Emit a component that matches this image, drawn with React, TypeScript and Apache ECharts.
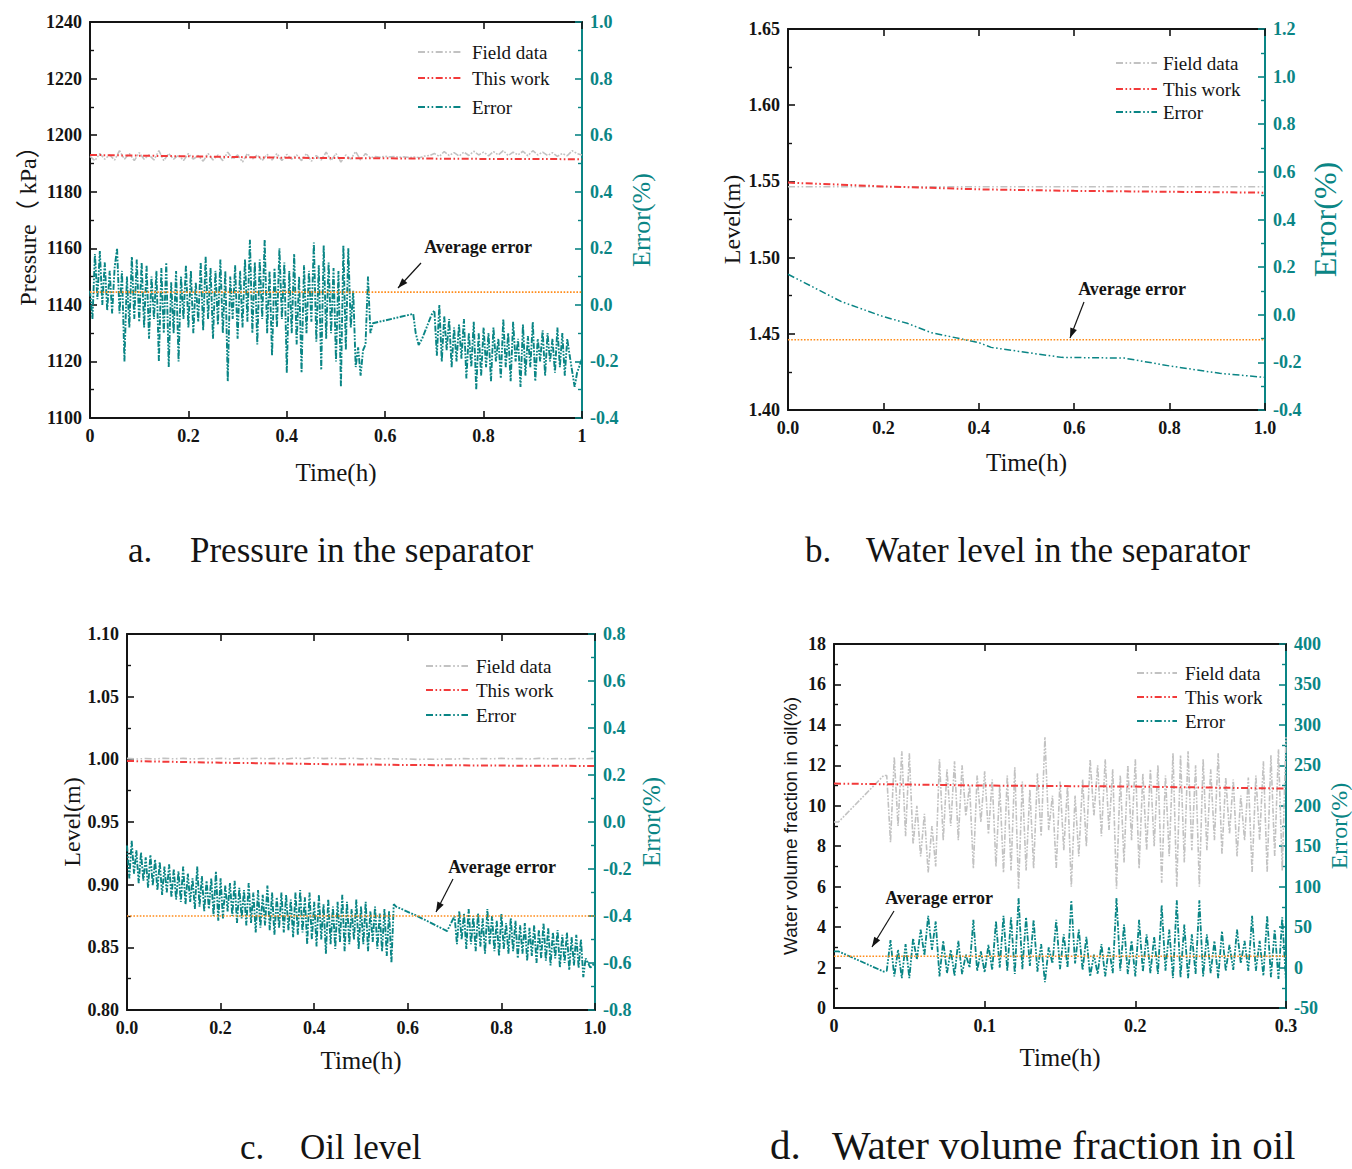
import React, { useEffect, useRef } from "react";
import * as echarts from "echarts";

// ---------------- Panel a: Pressure in the separator ----------------
const A_FIELD_T0 = 0;
const A_FIELD_DT = 0.01;
const A_FIELD = [
  1192.5, 1191.0, 1193.5, 1191.5, 1193.0, 1191.2, 1194.5, 1191.5, 1193.5, 1191.0,
  1193.8, 1191.5, 1193.0, 1191.2, 1194.5, 1191.0, 1193.5, 1191.5, 1193.0, 1191.0,
  1193.5, 1191.5, 1192.8, 1190.8, 1193.5, 1191.2, 1193.0, 1191.0, 1194.0, 1191.5,
  1193.0, 1190.5, 1193.5, 1191.5, 1193.0, 1191.0, 1193.2, 1191.2, 1193.5, 1191.0,
  1193.2, 1191.5, 1193.0, 1191.0, 1193.5, 1190.8, 1192.8, 1191.2, 1194.0, 1191.0,
  1193.5, 1190.5, 1193.0, 1191.5, 1194.2, 1191.2, 1193.5, 1192.0, 1192.4, 1192.2,
  1192.5, 1192.3, 1192.4, 1192.2, 1192.3, 1192.1, 1192.3, 1192.0, 1192.6, 1192.8,
  1193.5, 1192.5, 1194.2, 1192.8, 1193.8, 1192.6, 1194.0, 1192.8, 1194.3, 1193.0,
  1194.0, 1192.7, 1194.2, 1193.0, 1194.5, 1192.8, 1194.0, 1193.0, 1194.3, 1192.7,
  1194.5, 1193.0, 1194.0, 1192.8, 1193.8, 1192.5, 1193.5, 1192.7, 1194.5, 1193.5,
  1193.0,
];
const A_MODEL_T = [0, 0.2, 0.4, 0.6, 0.8, 1.0];
const A_MODEL = [1193.0, 1192.5, 1192.0, 1191.8, 1191.6, 1191.5];
const A_ERR1_T0 = 0;
const A_ERR1_DT = 0.005;
const A_ERR1 = [
  0.05, -0.05, 0.18, 0.02, 0.19, 0.0, 0.15, -0.02, 0.12, -0.03,
  0.13, 0.2, -0.03, 0.12, -0.2, 0.1, -0.08, 0.17, -0.05, 0.16,
  -0.06, 0.15, -0.08, 0.14, -0.12, 0.1, -0.05, 0.12, -0.2, 0.13,
  -0.1, 0.15, -0.22, 0.08, -0.1, 0.12, -0.2, 0.1, -0.05, 0.14,
  -0.08, 0.12, -0.1, 0.08, -0.06, 0.15, -0.09, 0.17, -0.05, 0.13,
  -0.12, 0.12, -0.07, 0.16, -0.1, 0.12, -0.27, 0.1, -0.05, 0.14,
  -0.12, 0.12, -0.08, 0.16, -0.06, 0.23, -0.1, 0.15, -0.14, 0.16,
  -0.05, 0.23, -0.1, 0.12, -0.18, 0.13, -0.08, 0.2, -0.05, 0.15,
  -0.24, 0.12, -0.1, 0.18, -0.14, 0.1, -0.24, 0.14, -0.1, 0.12,
  -0.06, 0.22, -0.13, 0.14, -0.23, 0.21, -0.12, 0.15, -0.1, 0.13,
  -0.2, 0.12, -0.29, 0.21, -0.16, 0.2, -0.08, 0.05, -0.22, -0.15,
  -0.25, -0.16, -0.14, 0.1, -0.1,
];
const A_ERR_GAP_T = [0.575, 0.657, 0.662, 0.668, 0.675, 0.694];
const A_ERR_GAP = [-0.065, -0.032, -0.1, -0.142, -0.12, -0.036];
const A_ERR2_T0 = 0.7;
const A_ERR2_DT = 0.005;
const A_ERR2 = [
  -0.02, -0.18, 0.0, -0.2, -0.04, -0.16, -0.05, -0.22, -0.08, -0.2,
  -0.07, -0.19, -0.05, -0.26, -0.1, -0.22, -0.06, -0.3, -0.1, -0.25,
  -0.08, -0.22, -0.1, -0.27, -0.08, -0.2, -0.12, -0.26, -0.05, -0.22,
  -0.1, -0.27, -0.06, -0.2, -0.12, -0.29, -0.07, -0.25, -0.11, -0.22,
  -0.06, -0.27, -0.12, -0.2, -0.09, -0.25, -0.1, -0.2, -0.12, -0.24,
  -0.08, -0.22, -0.1, -0.25, -0.12,
];
const A_ERR_TAIL_T = [0.975, 0.985, 0.99, 1.0];
const A_ERR_TAIL = [-0.18, -0.29, -0.24, -0.19];
const A_AVG = 0.045;

// ---------------- Panel b: Water level in the separator ----------------
const B_FIELD_T = [0, 1.0];
const B_FIELD = [1.5465, 1.5465];
const B_MODEL_T = [0, 0.1, 0.2, 0.4, 0.6, 0.8, 1.0];
const B_MODEL = [1.5492, 1.548, 1.5467, 1.5448, 1.5438, 1.5432, 1.5426];
const B_ERR_T = [0, 0.112, 0.2, 0.25, 0.3, 0.4, 0.426, 0.513, 0.574, 0.705, 0.8, 0.905, 1.0];
const B_ERR = [0.17, 0.055, -0.008, -0.036, -0.075, -0.117, -0.137, -0.162, -0.179, -0.182, -0.215, -0.246, -0.263];
const B_AVG = -0.105;

// ---------------- Panel c: Oil level ----------------
const C_FIELD_T0 = 0;
const C_FIELD_DT = 0.02;
const C_FIELD = [
  1.0008, 1.0002, 1.0007, 1.0003, 1.0009, 1.0004, 1.0008, 1.0003, 1.0007, 1.0004,
  1.0009, 1.0003, 1.0008, 1.0005, 1.0009, 1.0004, 1.0008, 1.0003, 1.001, 1.0005,
  1.0012, 1.0006, 1.001, 1.0005, 1.0009, 1.0004, 1.0008, 1.0003, 1.0006, 1.0002,
  1.0004, 0.9999, 1.0002, 1.0, 1.0003, 1.0002, 1.0006, 1.0003, 1.0007, 1.0004,
  1.0008, 1.0004, 1.0007, 1.0003, 1.0008, 1.0004, 1.0006, 1.0003, 1.0007, 1.0004,
  1.0008,
];
const C_MODEL_T = [0, 0.2, 0.4, 0.6, 0.8, 1.0];
const C_MODEL = [0.9987, 0.9973, 0.9963, 0.9955, 0.995, 0.9947];
const C_ERR1_T0 = 0;
const C_ERR1_DT = 0.005;
const C_ERR1 = [
  -0.1, -0.24, -0.08, -0.22, -0.12, -0.26, -0.13, -0.25, -0.15, -0.28, -0.14, -0.27, -0.16, -0.29, -0.17, -0.31, -0.19, -0.3, -0.18, -0.32,
  -0.2, -0.33, -0.21, -0.34, -0.19, -0.35, -0.22, -0.34, -0.24, -0.37, -0.19, -0.36, -0.23, -0.38, -0.25, -0.37, -0.24, -0.4, -0.21, -0.42,
  -0.24, -0.41, -0.27, -0.38, -0.26, -0.4, -0.25, -0.43, -0.28, -0.41, -0.29, -0.44, -0.26, -0.43, -0.3, -0.47, -0.29, -0.45, -0.31, -0.44,
  -0.27, -0.46, -0.3, -0.48, -0.32, -0.45, -0.3, -0.47, -0.31, -0.46, -0.33, -0.49, -0.3, -0.48, -0.29, -0.47, -0.32, -0.52, -0.3, -0.5,
  -0.34, -0.53, -0.31, -0.5, -0.35, -0.56, -0.33, -0.52, -0.36, -0.54, -0.34, -0.51, -0.31, -0.55, -0.34, -0.52, -0.37, -0.5, -0.33, -0.54,
  -0.36, -0.52, -0.34, -0.55, -0.38, -0.51, -0.36, -0.54, -0.39, -0.55, -0.37, -0.57, -0.38, -0.6,
  -0.35,
];
const C_ERR_GAP_T = [0.575, 0.62, 0.66, 0.684];
const C_ERR_GAP = [-0.36, -0.4, -0.44, -0.464];
const C_ERR2_T0 = 0.7;
const C_ERR2_DT = 0.005;
const C_ERR2 = [
  -0.4, -0.52, -0.38, -0.5, -0.39, -0.54, -0.37, -0.52, -0.4, -0.55,
  -0.39, -0.53, -0.41, -0.56, -0.37, -0.52, -0.4, -0.55, -0.42, -0.57,
  -0.39, -0.54, -0.43, -0.56, -0.41, -0.55, -0.42, -0.58, -0.44, -0.56,
  -0.43, -0.59, -0.45, -0.57, -0.44, -0.6, -0.46, -0.58, -0.43, -0.59,
  -0.45, -0.61, -0.47, -0.58, -0.46, -0.62, -0.48, -0.6, -0.47, -0.63,
  -0.49, -0.61, -0.48, -0.62, -0.5,
];
const C_ERR_TAIL_T = [0.975, 0.98, 0.99, 1.0];
const C_ERR_TAIL = [-0.66, -0.58, -0.62, -0.6];
const C_AVG = -0.4;

// ---------------- Panel d: Water volume fraction in oil ----------------
const D_FIELD_HEAD_T = [0, 0.003, 0.033];
const D_FIELD_HEAD = [9.2, 9.2, 11.5];
const D_FIELD_T0 = 0.035;
const D_FIELD_DT = 0.0025;
const D_FIELD = [
  11.5, 8.2, 12.4, 9.0, 12.7, 8.5, 12.6, 8.1, 10.0, 7.5,
  9.6, 6.7, 9.0, 7.0, 12.3, 8.3, 11.8, 9.0, 12.2, 8.3,
  12.0, 9.5, 11.0, 6.9, 11.5, 9.2, 11.7, 8.6, 11.3, 7.0,
  11.0, 6.7, 11.5, 6.8, 11.9, 5.9, 11.2, 6.8, 10.8, 6.9,
  11.6, 8.5, 13.4, 8.8, 10.5, 6.9, 11.2, 7.8, 11.0, 6.0,
  10.5, 7.5, 11.3, 8.0, 12.3, 9.5, 12.0, 8.5, 12.3, 8.8,
  11.8, 5.9, 11.5, 7.2, 12.0, 8.3, 12.3, 6.9, 11.6, 7.8,
  11.8, 8.0, 12.0, 6.2, 11.5, 7.5, 12.6, 6.0, 12.5, 7.2,
  12.7, 7.8, 12.0, 6.0, 12.3, 7.8, 11.8, 8.3, 12.6, 7.6,
  11.4, 8.6, 11.3, 7.5, 10.5, 8.3, 11.4, 6.7, 11.5, 8.3,
  12.2, 6.7, 12.5, 7.5, 12.8, 6.8, 13.4,
];
const D_MODEL_T = [0, 0.1, 0.2, 0.3];
const D_MODEL = [11.1, 11.0, 10.95, 10.85];
const D_ERR_HEAD_T = [0, 0.003, 0.033];
const D_ERR_HEAD = [20, 20, -5];
const D_ERR_T0 = 0.035;
const D_ERR_DT = 0.0025;
const D_ERR = [
  -4, 34, -11, 22, -13, 29, -13, 36, 10, 47,
  15, 64, 22, 57, -11, 33, -7, 22, -10, 33,
  -8, 16, 0, 59, -4, 20, -6, 28, -3, 57,
  0, 64, -4, 62, -8, 86, -2, 62, 2, 59,
  -5, 29, -18, 25, 5, 59, -2, 41, 0, 83,
  5, 47, -3, 38, -11, 16, -8, 29, -11, 25,
  -7, 86, -4, 53, -8, 33, -11, 59, -5, 41,
  -7, 38, -8, 77, -4, 47, -13, 83, -12, 53,
  -13, 41, -8, 83, -11, 41, -7, 33, -13, 45,
  -4, 28, -3, 47, 5, 33, -4, 64, -4, 33,
  -10, 64, -12, 47, -14, 62, -18,
];
const D_AVG = 14;

// ---------------- Text ----------------
const LEGEND_NAMES = ["Field data", "This work", "Error"];
const CAPTIONS = [
  ["a.", "Pressure in the separator"],
  ["b.", "Water level in the separator"],
  ["c.", "Oil level"],
  ["d.", "Water volume fraction in oil"],
];
const Y_LEFT_NAMES = ["Pressure\uFF08 kPa\uFF09", "Level(m)", "Level(m)", "Water volume fraction in oil(%)"];
const Y_RIGHT_NAME = "Error(%)";
const X_NAME = "Time(h)";
const AVG_LABEL = "Average error";

// ---------------- Styles ----------------
const SERIF = "'Liberation Serif', 'Times New Roman', 'Noto Sans CJK SC', serif";
const SANS = "'Liberation Sans', Arial, sans-serif";
const TEAL = "#0a8585";
const RED = "#f23a3a";
const GRAY = "#c2c2c2";
const ORANGE = "#ff8c1a";
const INK = "#141414";
const DASH = [7, 2.5, 1.6, 2.5, 1.6, 2.5];
const DENSE_DASH = [6, 1.5, 1.8, 1.5, 1.8, 1.5];
const TICK_FONT = 18;

const samples = (t0: number, dt: number, vals: number[]) =>
  vals.map((v, i) => [+(t0 + i * dt).toFixed(5), v]);
const pairs = (ts: number[], vs: number[]) => ts.map((t, i) => [t, vs[i]]);

const fx1 = (v: number) => (Math.abs(v) < 1e-9 ? 0 : v).toFixed(1);
const fx2 = (v: number) => v.toFixed(2);
const fint = (v: number) => String(Math.round(v));
const fauto = (v: number) => String(+v.toFixed(4));

const PANELS = [
  {
    grid: { left: 90, top: 22, width: 492, height: 396 },
    x: { min: 0, max: 1, interval: 0.2, fmt: fauto, gap: 42 },
    yl: { min: 1100, max: 1240, interval: 20, fmt: fint, gap: 50, font: SERIF, size: 24 },
    yr: { min: -0.4, max: 1.0, interval: 0.2, fmt: fx1, gap: 46, size: 26 },
    field: samples(A_FIELD_T0, A_FIELD_DT, A_FIELD),
    model: pairs(A_MODEL_T, A_MODEL),
    err: [
      ...samples(A_ERR1_T0, A_ERR1_DT, A_ERR1),
      ...pairs(A_ERR_GAP_T, A_ERR_GAP),
      ...samples(A_ERR2_T0, A_ERR2_DT, A_ERR2),
      ...pairs(A_ERR_TAIL_T, A_ERR_TAIL),
    ],
    errWidth: 1.9,
    errDash: DENSE_DASH,
    fieldDash: DENSE_DASH,
    avg: A_AVG,
    legend: { x1: 418, x2: 462, tx: 472, ys: [52, 78, 107] },
    note: { cx: 478, cy: 247, ax1: 421, ay1: 263, ax2: 398, ay2: 288 },
    cap: { x1: 128, x2: 190, y: 550, size: 35 },
  },
  {
    grid: { left: 788, top: 29, width: 477, height: 381 },
    x: { min: 0, max: 1, interval: 0.2, fmt: fx1, gap: 40 },
    yl: { min: 1.4, max: 1.65, interval: 0.05, fmt: fx2, gap: 44, font: SERIF, size: 24 },
    yr: { min: -0.4, max: 1.2, interval: 0.2, fmt: fx1, gap: 44, size: 32 },
    field: pairs(B_FIELD_T, B_FIELD),
    model: pairs(B_MODEL_T, B_MODEL),
    err: pairs(B_ERR_T, B_ERR),
    errWidth: 1.5,
    errDash: DASH,
    fieldDash: DASH,
    avg: B_AVG,
    legend: { x1: 1116, x2: 1157, tx: 1163, ys: [63, 89, 112] },
    note: { cx: 1132, cy: 289, ax1: 1084, ay1: 302, ax2: 1070, ay2: 338 },
    cap: { x1: 805, x2: 866, y: 550, size: 35 },
  },
  {
    grid: { left: 127, top: 634, width: 468, height: 376 },
    x: { min: 0, max: 1, interval: 0.2, fmt: fx1, gap: 38 },
    yl: { min: 0.8, max: 1.1, interval: 0.05, fmt: fx2, gap: 42, font: SERIF, size: 24 },
    yr: { min: -0.8, max: 0.8, interval: 0.2, fmt: fx1, gap: 44, size: 25 },
    field: samples(C_FIELD_T0, C_FIELD_DT, C_FIELD),
    model: pairs(C_MODEL_T, C_MODEL),
    err: [
      ...samples(C_ERR1_T0, C_ERR1_DT, C_ERR1),
      ...pairs(C_ERR_GAP_T, C_ERR_GAP),
      ...samples(C_ERR2_T0, C_ERR2_DT, C_ERR2),
      ...pairs(C_ERR_TAIL_T, C_ERR_TAIL),
    ],
    errWidth: 1.9,
    errDash: DENSE_DASH,
    fieldDash: DASH,
    avg: C_AVG,
    legend: { x1: 426, x2: 468, tx: 476, ys: [666, 690, 715] },
    note: { cx: 502, cy: 867, ax1: 453, ay1: 879, ax2: 436, ay2: 912 },
    cap: { x1: 240, x2: 300, y: 1147, size: 35 },
  },
  {
    grid: { left: 834, top: 644, width: 454, height: 364 },
    x: { min: 0, max: 0.3, interval: 0.1, fmt: fauto, gap: 37 },
    yl: { min: 0, max: 18, interval: 2, fmt: fint, gap: 34, font: SANS, size: 19 },
    yr: { min: -50, max: 400, interval: 50, fmt: fint, gap: 41, size: 24 },
    field: [...pairs(D_FIELD_HEAD_T, D_FIELD_HEAD), ...samples(D_FIELD_T0, D_FIELD_DT, D_FIELD)],
    model: pairs(D_MODEL_T, D_MODEL),
    err: [...pairs(D_ERR_HEAD_T, D_ERR_HEAD), ...samples(D_ERR_T0, D_ERR_DT, D_ERR)],
    errWidth: 1.8,
    errDash: DENSE_DASH,
    fieldDash: DENSE_DASH,
    avg: D_AVG,
    legend: { x1: 1137, x2: 1177, tx: 1185, ys: [673, 697, 721] },
    note: { cx: 939, cy: 898, ax1: 894, ay1: 911, ax2: 872, ay2: 947 },
    cap: { x1: 770, x2: 832, y: 1145, size: 41 },
  },
];

function buildOption() {
  const grids: any[] = [];
  const xAxes: any[] = [];
  const yAxes: any[] = [];
  const series: any[] = [];
  const graphics: any[] = [];

  PANELS.forEach((p, i) => {
    grids.push({ ...p.grid, containLabel: false });
    const tick = (color: string) => ({
      show: true,
      inside: true,
      length: 7,
      lineStyle: { color, width: 1.6 },
    });
    const xBase = {
      type: "value",
      gridIndex: i,
      min: p.x.min,
      max: p.x.max,
      interval: p.x.interval,
      axisLine: { show: true, onZero: false, lineStyle: { color: INK, width: 2 } },
      axisTick: tick(INK),
      splitLine: { show: false },
    };
    xAxes.push({
      ...xBase,
      position: "bottom",
      axisLabel: {
        show: true,
        margin: 9,
        color: INK,
        fontFamily: SERIF,
        fontWeight: "bold",
        fontSize: TICK_FONT,
        formatter: p.x.fmt,
      },
      name: X_NAME,
      nameLocation: "middle",
      nameGap: p.x.gap,
      nameTextStyle: { fontFamily: SERIF, fontSize: 25, color: INK },
    });
    xAxes.push({ ...xBase, position: "top", axisLabel: { show: false } });

    yAxes.push({
      type: "value",
      gridIndex: i,
      position: "left",
      min: p.yl.min,
      max: p.yl.max,
      interval: p.yl.interval,
      axisLine: { show: true, onZero: false, lineStyle: { color: INK, width: 2 } },
      axisTick: tick(INK),
      minorTick: { show: true, splitNumber: 2, length: 4, lineStyle: { color: INK, width: 1.4 } },
      axisLabel: {
        margin: 8,
        color: INK,
        fontFamily: SERIF,
        fontWeight: "bold",
        fontSize: TICK_FONT,
        formatter: p.yl.fmt,
      },
      splitLine: { show: false },
      name: Y_LEFT_NAMES[i],
      nameLocation: "middle",
      nameGap: p.yl.gap,
      nameTextStyle: { fontFamily: p.yl.font, fontSize: p.yl.size, color: INK },
    });
    yAxes.push({
      type: "value",
      gridIndex: i,
      position: "right",
      min: p.yr.min,
      max: p.yr.max,
      interval: p.yr.interval,
      axisLine: { show: true, onZero: false, lineStyle: { color: TEAL, width: 2 } },
      axisTick: tick(TEAL),
      minorTick: { show: true, splitNumber: 2, length: 4, lineStyle: { color: TEAL, width: 1.4 } },
      axisLabel: {
        margin: 8,
        color: TEAL,
        fontFamily: SERIF,
        fontWeight: "bold",
        fontSize: TICK_FONT,
        formatter: p.yr.fmt,
      },
      splitLine: { show: false },
      name: Y_RIGHT_NAME,
      nameLocation: "middle",
      nameGap: p.yr.gap,
      nameTextStyle: { fontFamily: SERIF, fontSize: p.yr.size, color: TEAL },
    });

    const common = { type: "line", showSymbol: false, symbol: "none", silent: true, xAxisIndex: 2 * i };
    series.push({
      ...common,
      name: LEGEND_NAMES[0],
      yAxisIndex: 2 * i,
      data: p.field,
      lineStyle: { color: GRAY, width: 1.6, type: p.fieldDash },
      z: 2,
    });
    series.push({
      ...common,
      name: LEGEND_NAMES[1],
      yAxisIndex: 2 * i,
      data: p.model,
      lineStyle: { color: RED, width: 2, type: DASH },
      z: 3,
    });
    series.push({
      ...common,
      name: LEGEND_NAMES[2],
      yAxisIndex: 2 * i + 1,
      data: p.err,
      lineStyle: { color: TEAL, width: p.errWidth, type: p.errDash },
      z: 4,
    });
    series.push({
      ...common,
      name: AVG_LABEL,
      yAxisIndex: 2 * i + 1,
      data: [
        [p.x.min, p.avg],
        [p.x.max, p.avg],
      ],
      lineStyle: { color: ORANGE, width: 1.6, type: "dotted" },
      z: 5,
    });

    // legend
    const colors = [GRAY, RED, TEAL];
    p.legend.ys.forEach((y, k) => {
      graphics.push({
        type: "line",
        silent: true,
        shape: { x1: p.legend.x1, y1: y, x2: p.legend.x2, y2: y },
        style: { stroke: colors[k], lineWidth: 1.8, lineDash: DASH },
      });
      graphics.push({
        type: "text",
        silent: true,
        x: p.legend.tx,
        y,
        style: {
          text: LEGEND_NAMES[k],
          fill: INK,
          fontFamily: SERIF,
          fontSize: 19,
          align: "left",
          verticalAlign: "middle",
        },
      });
    });

    // average error note with arrow
    const n = p.note;
    graphics.push({
      type: "text",
      silent: true,
      x: n.cx,
      y: n.cy,
      style: {
        text: AVG_LABEL,
        fill: INK,
        fontFamily: SERIF,
        fontWeight: "bold",
        fontSize: 18,
        align: "center",
        verticalAlign: "middle",
      },
    });
    graphics.push({
      type: "line",
      silent: true,
      shape: { x1: n.ax1, y1: n.ay1, x2: n.ax2, y2: n.ay2 },
      style: { stroke: INK, lineWidth: 1.2 },
    });
    const dx = n.ax2 - n.ax1;
    const dy = n.ay2 - n.ay1;
    const len = Math.sqrt(dx * dx + dy * dy);
    const ux = dx / len;
    const uy = dy / len;
    const hl = 10;
    const hw = 3.5;
    const bx = n.ax2 - ux * hl;
    const by = n.ay2 - uy * hl;
    graphics.push({
      type: "polygon",
      silent: true,
      shape: {
        points: [
          [n.ax2, n.ay2],
          [bx - uy * hw, by + ux * hw],
          [bx + uy * hw, by - ux * hw],
        ],
      },
      style: { fill: INK },
    });

    // caption
    graphics.push({
      type: "text",
      silent: true,
      x: p.cap.x1,
      y: p.cap.y,
      style: { text: CAPTIONS[i][0], fill: INK, fontFamily: SERIF, fontSize: p.cap.size, verticalAlign: "middle" },
    });
    graphics.push({
      type: "text",
      silent: true,
      x: p.cap.x2,
      y: p.cap.y,
      style: { text: CAPTIONS[i][1], fill: INK, fontFamily: SERIF, fontSize: p.cap.size, verticalAlign: "middle" },
    });
  });

  return {
    animation: false,
    backgroundColor: "#ffffff",
    grid: grids,
    xAxis: xAxes,
    yAxis: yAxes,
    series,
    graphic: graphics,
  };
}

export default function App() {
  const ref = useRef<HTMLDivElement>(null);
  useEffect(() => {
    document.body.style.margin = "0";
    if (!ref.current) return;
    const chart = echarts.init(ref.current, undefined, { renderer: "svg" });
    chart.setOption(buildOption() as any);
    return () => chart.dispose();
  }, []);
  return <div ref={ref} style={{ width: 1352, height: 1169, background: "#fff" }} />;
}
